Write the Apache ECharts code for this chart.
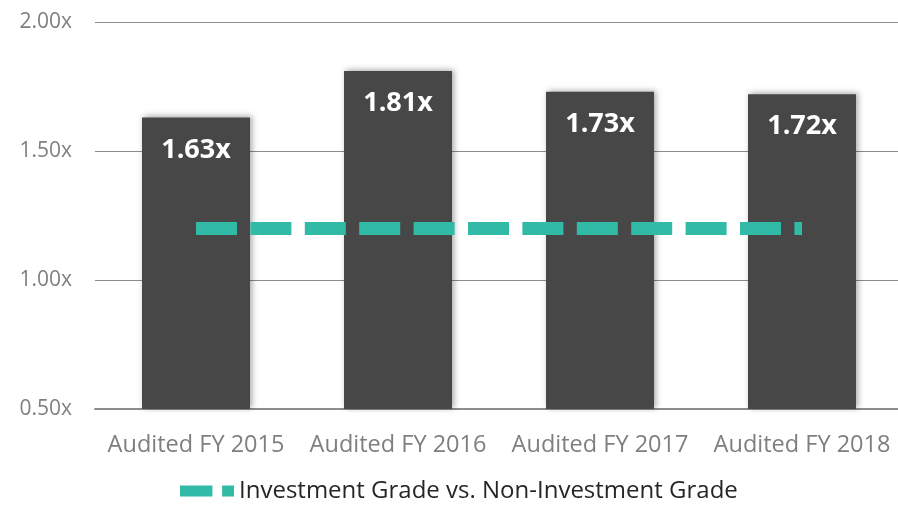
<!DOCTYPE html>
<html>
<head>
<meta charset="utf-8">
<script src="https://cdn.jsdelivr.net/npm/echarts@6/dist/echarts.min.js"></script>
<style>
  html, body { margin: 0; padding: 0; background: #fff; }
  #chart { width: 898px; height: 507px; }
</style>
</head>
<body>
<div id="chart"></div>
<script>
const categories = ['Audited FY 2015', 'Audited FY 2016', 'Audited FY 2017', 'Audited FY 2018'];
const coverage = [1.63, 1.81, 1.73, 1.72];
const threshold = [1.2, 1.2, 1.2, 1.2];
const yTicks = [0.5, 1.0, 1.5, 2.0];

const fontFamily = '"Open Sans", "Noto Sans", sans-serif';
const chart = echarts.init(document.getElementById('chart'));

chart.setOption({
    animation: false,
    textStyle: { fontFamily: fontFamily },
    grid: { left: 95, width: 808, top: 22, bottom: 98, outerBoundsMode: 'none', containLabel: false },
    legend: {
        top: 474,
        left: 175,
        itemWidth: 54,
        itemHeight: 13,
        itemGap: 6,
        icon: 'path://M0,0h30v10h-30z M39,0h11v10h-11z',
        data: [{ name: 'Investment Grade vs. Non-Investment Grade' }],
        textStyle: { color: '#262626', fontSize: 24, fontFamily: fontFamily }
    },
    xAxis: {
        type: 'category',
        data: categories,
        axisTick: { show: false },
        axisLine: { lineStyle: { color: '#8c8c8c', width: 2 } },
        axisLabel: { color: '#7f7f7f', fontSize: 23.5, margin: 24, interval: 0, hideOverlap: false }
    },
    yAxis: {
        type: 'value',
        min: yTicks[0],
        max: yTicks[yTicks.length - 1],
        interval: 0.5,
        axisLine: { show: false },
        axisTick: { show: false },
        splitLine: { lineStyle: { color: '#8c8c8c', width: 1 } },
        axisLabel: {
            color: '#7f7f7f',
            fontSize: 21,
            margin: 23,
            formatter: function (v) { return v.toFixed(2) + 'x'; }
        }
    },
    series: [{
        name: 'Coverage',
        type: 'bar',
        data: coverage,
        barWidth: 108,
        itemStyle: {
            color: '#474747',
            shadowColor: 'rgba(0,0,0,0.35)',
            shadowBlur: 6,
            shadowOffsetX: 2,
            shadowOffsetY: -1
        },
        label: {
            show: true,
            position: 'insideTop',
            distance: 19,
            color: '#ffffff',
            fontSize: 27,
            fontWeight: 'bold',
            formatter: function (p) { return p.value.toFixed(2) + 'x'; }
        },
        z: 2
    }, {
        name: 'Investment Grade vs. Non-Investment Grade',
        type: 'line',
        data: threshold,
        symbol: 'none',
        color: '#31baa6',
        lineStyle: { color: '#31baa6', width: 13, type: [41, 13.4], cap: 'butt' },
        z: 3
    }]
});
</script>
</body>
</html>
